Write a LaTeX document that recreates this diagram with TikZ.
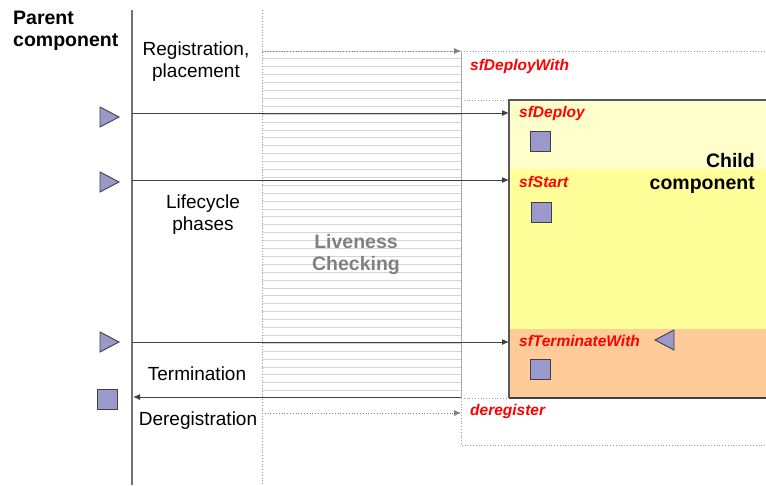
\documentclass[tikz,border=0pt]{standalone}
\usepackage{fontspec}
\setmainfont{Liberation Sans}
\usetikzlibrary{arrows.meta}
\definecolor{lilac}{HTML}{9999CC}
\definecolor{paleyellow}{HTML}{FFFFCC}
\definecolor{yellowband}{HTML}{FFFF99}
\definecolor{peach}{HTML}{FFCC99}
\definecolor{edgegray}{HTML}{404040}
\definecolor{hatchgray}{HTML}{D4D4D4}
\tikzset{
  lbl/.style={inner sep=0pt, font=\fontsize{19}{22}\selectfont, align=center},
  boldlbl/.style={lbl, font=\fontsize{19.5}{22}\selectfont\bfseries},
  call/.style={inner sep=0pt, anchor=west, text=red, font=\fontsize{15.5}{18}\selectfont\bfseries\itshape},
  lifeline/.style={draw=gray!90!black, line width=1.2pt},
  dotline/.style={draw=gray!80, line width=0.8pt, dotted},
  hatch/.style={draw=hatchgray, line width=0.9pt},
  arr/.style={draw=edgegray, line width=1pt, -{Latex[length=7pt,width=6pt]}},
  dotarr/.style={dotline, -{Latex[length=7pt,width=6pt]}, draw=gray},
  token/.style={fill=lilac, draw=edgegray, line width=0.9pt},
}
\begin{document}
\begin{tikzpicture}[x=1pt,y=-1pt]
\useasboundingbox (0,0) rectangle (766,485);
\clip (0,0) rectangle (766,485);

% liveness checking hatch
\foreach \i in {0,...,43}
  \draw[hatch] (262,{51+7.9*\i}) -- (461,{51+7.9*\i});
\draw[draw=gray!60, line width=1pt] (461,51) -- (461,398);

% lifelines
\draw[lifeline] (132,10) -- (132,485);
\draw[dotline] (262,10) -- (262,485);

% outer (registration) box
\draw[dotline] (461,51) rectangle (790,445);
\draw[dotline] (461,100) -- (509,100);
\draw[dotline] (461,398) -- (509,398);

% child component
\fill[paleyellow] (509,100) rectangle (790,169);
\fill[yellowband] (509,169) rectangle (790,329);
\fill[peach] (509,329) rectangle (790,398);
\draw[draw=gray!70!black, line width=1.2pt] (790,100) -- (509,100) -- (509,398);
\draw[draw=edgegray, line width=1.6pt] (509,398) -- (790,398);

% tokens
\draw[token] (530,131) rectangle (550,151);
\draw[token] (531,202) rectangle (551,222);
\draw[token] (530,359) rectangle (550,379);
\draw[token] (97.5,389) rectangle (117.5,409);
\draw[token] (100,107) -- (119,117) -- (100,127) -- cycle;
\draw[token] (100,172) -- (119,182) -- (100,192) -- cycle;
\draw[token] (100,332) -- (119,342) -- (100,352) -- cycle;
\draw[token] (674,330) -- (655,340) -- (674,350) -- cycle;

% connector end points
\coordinate (pReg) at (262,51);
\coordinate (cReg) at (461,51);
\coordinate (pDep) at (132,113);
\coordinate (cDep) at (509,113);
\coordinate (pSta) at (132,180);
\coordinate (cSta) at (509,180);
\coordinate (pTer) at (132,342);
\coordinate (cTer) at (509,342);
\coordinate (cEnd) at (461,397);
\coordinate (pEnd) at (133,397);
\coordinate (pDer) at (262,413);
\coordinate (cDer) at (461,413);

\draw[dotarr] (pReg) -- (cReg);
\draw[arr] (pDep) -- (cDep);
\draw[arr] (pSta) -- (cSta);
\draw[arr] (pTer) -- (cTer);
\draw[arr] (cEnd) -- (pEnd);
\draw[dotarr] (pDer) -- (cDer);

% texts
\node[boldlbl, anchor=west, align=left] (parent) at (13,31) {Parent\\component};
\node[lbl] (reg) at (196,62) {Registration,\\placement};
\node[lbl] (life) at (203,214.5) {Lifecycle\\phases};
\node[lbl] (term) at (197,374) {Termination};
\node[lbl] (dereg) at (198,421) {Deregistration};
\node[boldlbl, text=gray] (live) at (356,254) {Liveness\\Checking};
\node[boldlbl, anchor=east, align=right] (child) at (755,173) {Child\\component};

\node[call] (lDW) at (470,66) {sfDeployWith};
\node[call] (lD) at (519,113) {sfDeploy};
\node[call] (lS) at (519,182) {sfStart};
\node[call] (lT) at (519,341) {sfTerminateWith};
\node[call] (lR) at (470,411) {deregister};
\end{tikzpicture}
\end{document}
